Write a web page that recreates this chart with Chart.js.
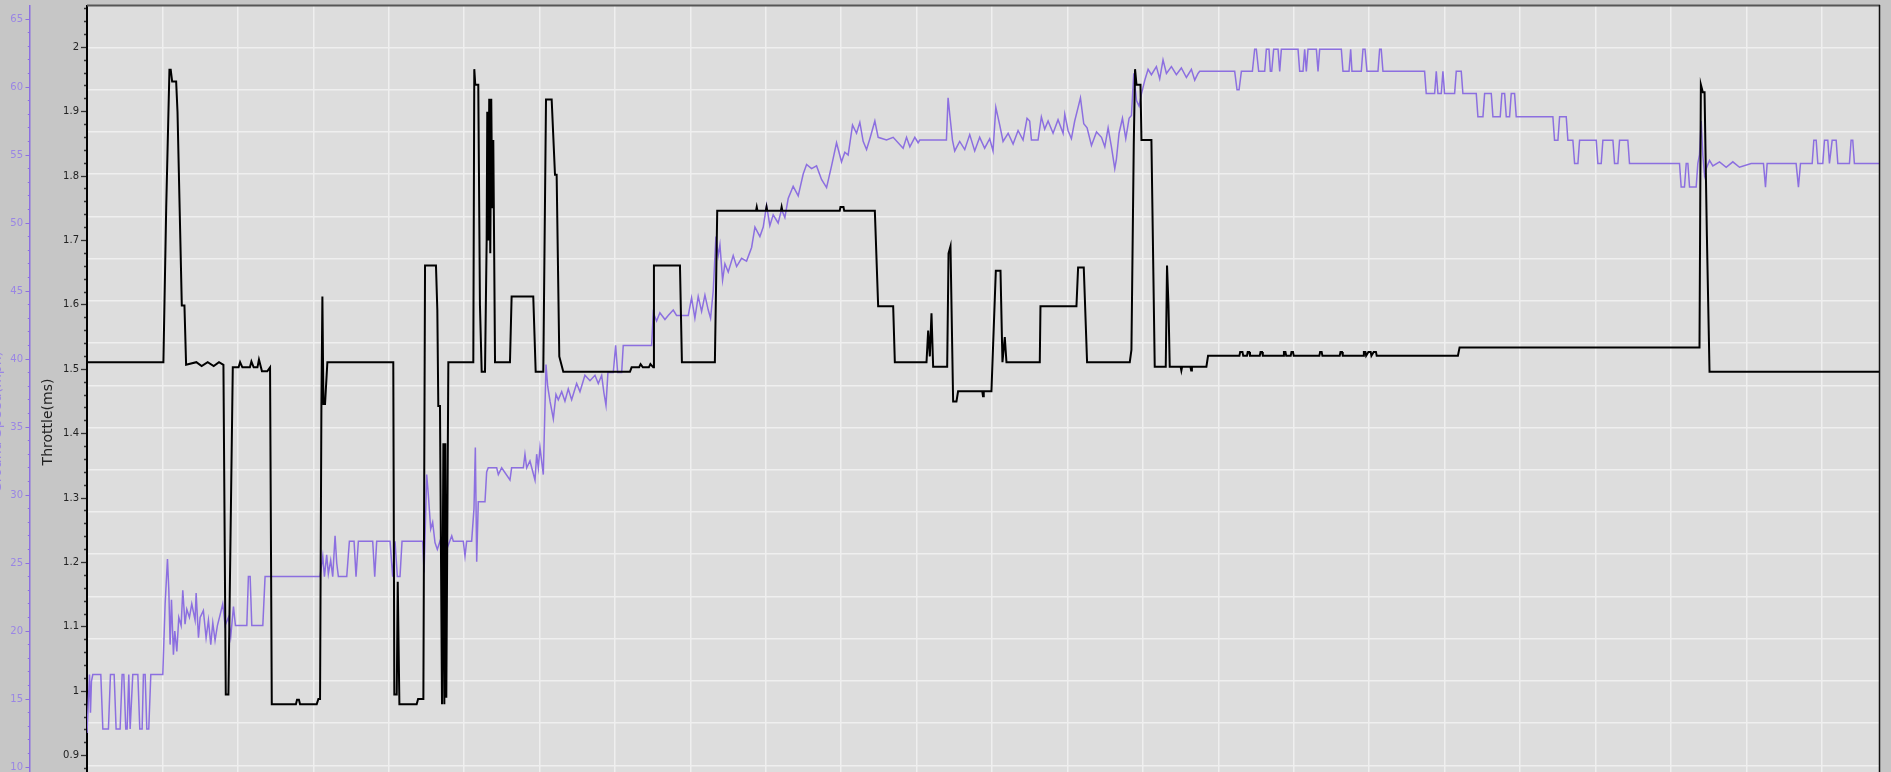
<!DOCTYPE html>
<html>
<head>
<meta charset="utf-8">
<script src="https://cdn.jsdelivr.net/npm/chart.js@4/dist/chart.umd.min.js"></script>
<style>
html,body{margin:0;padding:0;width:1891px;height:772px;overflow:hidden;background:#c6c6c6;}
#wrap{width:1891px;height:772px;overflow:hidden;position:relative;}
canvas{display:block;}
</style>
</head>
<body>
<div id="wrap"><canvas id="c" width="1891" height="840" style="width:1891px;height:840px"></canvas></div>
<script>
// time axis (arbitrary units, grid every 10)
const timeRange = [0, 237.6];

// Throttle (ms) – black series
const throttleT = [0,10.13,10.5,10.93,11.1,11.29,11.82,12.0,12.57,12.92,13.14,14.5,15.2,16.0,16.8,17.5,18.09,18.4,18.75,19.33,20.1,20.3,20.6,21.6,21.8,22.1,22.6,22.8,23.2,23.9,24.27,24.5,27.7,27.85,28.1,28.25,30.46,30.68,30.9,31.08,31.21,31.35,31.56,31.87,40.61,40.75,41.07,41.2,41.42,43.71,43.9,44.6,44.82,46.27,46.45,46.58,46.8,47.07,47.25,47.38,47.51,47.64,47.91,51.22,51.35,51.48,51.88,52.1,52.33,52.77,52.99,53.07,53.2,53.33,53.47,53.6,53.73,53.87,53.96,54.1,56.08,56.3,59.17,59.49,60.5,60.86,61.61,62.05,62.27,62.62,63.15,71.99,72.21,73.2,73.4,73.7,74.5,74.7,75.08,75.17,78.62,78.88,83.25,83.56,88.7,88.8,88.9,90.0,90.1,90.2,92.0,92.1,92.2,99.8,99.9,100.3,100.4,104.46,104.9,106.89,107.11,111.31,111.53,111.75,111.97,112.19,114.05,114.23,114.49,114.84,115.28,115.5,118.7,118.8,118.9,119.92,120.5,121.12,121.38,121.69,121.91,126.33,126.42,131.19,131.41,132.16,132.6,138.26,138.48,138.79,138.96,139.15,139.68,139.81,141.13,141.57,143.03,143.2,143.39,143.56,145.0,145.1,145.2,146.3,146.4,146.5,148.42,148.64,152.8,152.9,153.2,153.3,153.8,153.9,154.1,154.2,155.5,155.6,155.8,155.9,158.6,158.7,158.9,159.0,159.6,159.7,159.9,160.0,163.4,163.5,163.7,163.8,166.1,166.2,166.4,166.5,169.2,169.3,169.5,169.6,169.9,170.2,170.3,170.6,170.9,171.0,181.77,181.99,213.8,213.98,214.24,214.47,214.78,215.13,237.6];
const throttleV = [1.511,1.511,1.75,1.965,1.965,1.947,1.947,1.9,1.599,1.599,1.507,1.511,1.505,1.511,1.505,1.511,1.507,0.995,0.995,1.503,1.503,1.511,1.503,1.503,1.512,1.503,1.503,1.515,1.497,1.497,1.503,0.98,0.98,0.987,0.987,0.98,0.98,0.988,0.988,1.446,1.613,1.446,1.446,1.511,1.511,0.995,0.995,1.17,0.98,0.98,0.988,0.988,1.661,1.661,1.592,1.443,1.443,0.98,1.385,0.98,1.385,0.99,1.511,1.511,1.966,1.942,1.942,1.6,1.496,1.496,1.7,1.9,1.7,1.92,1.68,1.92,1.75,1.856,1.856,1.511,1.511,1.613,1.613,1.496,1.496,1.919,1.919,1.802,1.802,1.52,1.496,1.496,1.503,1.503,1.508,1.503,1.503,1.508,1.503,1.661,1.661,1.511,1.511,1.746,1.746,1.752,1.746,1.746,1.752,1.746,1.746,1.752,1.746,1.746,1.752,1.752,1.746,1.746,1.598,1.598,1.511,1.511,1.56,1.52,1.587,1.504,1.504,1.68,1.691,1.45,1.45,1.466,1.466,1.458,1.466,1.466,1.653,1.653,1.511,1.55,1.511,1.511,1.598,1.598,1.658,1.658,1.511,1.511,1.53,1.85,1.966,1.942,1.942,1.856,1.856,1.504,1.504,1.661,1.6,1.504,1.504,1.498,1.504,1.504,1.498,1.504,1.504,1.521,1.521,1.527,1.527,1.521,1.521,1.527,1.527,1.521,1.521,1.527,1.527,1.521,1.521,1.527,1.527,1.521,1.521,1.527,1.527,1.521,1.521,1.527,1.527,1.521,1.521,1.527,1.527,1.521,1.521,1.527,1.527,1.521,1.527,1.527,1.521,1.527,1.527,1.521,1.521,1.534,1.534,1.942,1.93,1.93,1.707,1.496,1.496];

// Speed – purple series
const speedT = [0,0.33,0.46,0.59,0.77,1.83,2.1,2.84,3.11,3.6,3.86,4.39,4.66,4.88,5.14,5.32,5.54,5.72,6.07,6.74,7.0,7.31,7.48,7.71,7.93,8.19,8.46,10.05,10.36,10.67,10.85,11.02,11.2,11.46,11.64,11.91,12.17,12.48,12.7,13.0,13.23,13.58,13.89,14.33,14.47,14.78,15.0,15.43,15.79,16.1,16.41,16.68,16.98,17.29,17.74,18.0,18.31,18.75,19.06,19.42,19.68,21.19,21.4,21.63,21.85,23.31,23.61,30.9,31.26,31.48,31.78,32.0,32.31,32.58,32.89,33.11,33.33,34.44,34.79,35.41,35.67,35.98,37.88,38.15,38.41,40.18,40.53,40.84,41.15,41.5,41.77,44.51,44.69,45.04,45.26,45.57,45.83,46.14,46.45,46.8,47.25,47.47,47.69,48.36,48.57,49.89,50.12,50.34,51.0,51.31,51.49,51.67,51.88,52.77,52.99,53.2,54.32,54.54,54.98,56.08,56.3,57.85,58.07,58.3,58.73,59.4,59.62,59.84,60.06,60.5,60.86,61.08,61.39,61.83,62.18,62.49,62.94,63.37,63.81,64.26,64.92,65.36,66.02,66.69,67.35,67.79,68.24,68.54,68.81,69.07,69.78,70.09,70.36,70.89,71.1,74.86,75.08,75.52,75.96,76.63,77.06,77.73,78.17,79.72,80.16,80.6,81.04,81.49,81.93,82.37,82.68,83.03,83.39,83.69,83.92,84.27,84.58,85.02,85.68,86.13,86.79,87.45,88.12,88.56,89.22,89.66,90.1,90.54,90.98,91.64,92.09,92.53,92.97,93.63,94.3,94.96,95.41,96.07,96.73,97.39,98.06,98.72,99.38,100.04,100.48,100.92,101.5,102.03,102.47,102.91,103.36,103.8,104.46,104.9,106.01,106.89,108.21,108.66,109.1,109.76,110.2,110.42,113.95,114.17,114.39,114.75,115.05,115.71,116.38,117.04,117.7,118.36,119.02,119.69,120.13,120.5,121.02,121.46,122.13,122.79,123.45,124.11,124.64,124.99,125.22,126.1,126.54,126.98,127.43,128.09,128.75,129.42,129.64,130.08,130.52,130.96,131.41,131.72,132.16,132.6,133.18,133.85,134.51,134.95,135.39,135.83,136.27,136.49,136.84,137.29,137.73,138.17,138.48,138.79,139.15,139.49,139.81,140.25,140.69,141.13,141.79,142.23,142.67,143.12,143.78,144.44,145.1,145.77,146.43,146.87,147.31,147.53,152.17,152.48,152.75,153.06,154.52,154.82,155.04,155.35,156.15,156.37,156.72,156.9,157.08,157.34,157.92,158.14,158.36,160.57,160.79,161.23,161.45,161.67,161.89,163.0,163.22,163.44,166.31,166.53,167.33,167.55,167.72,168.96,169.18,169.45,169.71,171.17,171.39,171.6,171.83,177.35,177.57,178.68,178.9,179.12,179.56,179.78,180.0,181.33,181.55,182.21,182.43,184.2,184.42,185.09,185.31,186.19,186.41,187.38,187.6,187.96,188.18,188.62,188.84,189.28,189.5,194.36,194.58,195.03,195.25,196.13,196.35,197.01,197.24,197.68,197.9,200.11,200.33,200.77,200.99,202.32,202.54,202.98,203.2,204.3,204.52,211.15,211.37,211.81,212.04,212.26,212.48,213.36,213.58,213.8,214.02,214.24,214.47,214.69,215.13,215.57,216.45,217.34,218.22,219.1,220.65,222.28,222.55,222.77,226.61,226.92,227.19,228.74,228.96,229.27,229.49,230.15,230.37,230.81,231.03,231.39,231.92,232.14,233.68,233.9,234.12,234.34,237.6];
const speedV = [12.5,16.8,14.0,16.3,16.8,16.8,12.8,12.8,16.8,16.8,12.8,12.8,16.8,16.8,12.8,12.8,16.8,12.8,16.8,16.8,12.8,12.8,16.8,16.8,12.8,12.8,16.8,16.8,22.0,25.3,23.0,19.0,22.3,18.25,20.0,18.5,21.0,20.4,23.0,20.5,21.6,21.0,22.0,20.8,22.8,19.5,21.0,21.5,19.5,20.8,19.0,20.6,19.3,20.4,21.4,22.0,20.4,21.0,19.6,21.8,20.4,20.4,24.0,24.0,20.4,20.4,24.0,24.0,25.5,24.0,25.6,24.2,25.2,24.0,27.0,25.0,24.0,24.0,26.6,26.6,24.0,26.6,26.6,24.0,26.6,26.6,24.0,26.6,24.0,24.0,26.6,26.6,24.3,31.5,30.0,27.5,28.0,26.5,26.0,26.6,26.0,27.2,26.0,27.0,26.6,26.6,25.5,26.6,26.6,29.0,33.5,25.1,29.5,29.5,31.7,32.0,32.0,31.5,32.0,31.1,32.0,32.0,33.0,32.0,32.5,31.1,33.0,32.0,33.5,31.5,39.6,38.0,36.9,35.6,37.4,37.0,37.6,36.9,37.8,37.0,38.2,37.6,38.8,38.4,38.8,38.2,38.8,37.5,36.6,39.0,39.0,41.0,39.0,39.0,41.0,41.0,43.4,42.8,43.4,42.9,43.2,43.6,43.2,43.2,44.5,43.0,44.6,43.5,44.7,43.6,43.0,45.0,49.0,47.6,48.4,45.8,47.0,46.4,47.6,46.8,47.4,47.2,48.2,49.7,49.0,49.7,51.3,49.8,50.6,50.0,51.0,50.4,51.8,52.7,52.0,53.6,54.3,54.0,54.2,53.2,52.6,54.2,55.9,54.5,55.2,55.0,57.2,56.6,57.4,56.0,55.4,56.2,57.5,56.3,56.1,56.3,55.5,56.3,55.6,56.3,55.9,56.1,56.1,59.2,58.0,56.1,55.3,56.0,55.4,56.5,55.3,56.3,55.5,56.2,55.3,58.5,57.2,56.0,56.6,55.8,56.8,56.1,57.7,57.5,56.1,56.1,57.8,56.9,57.5,56.6,57.6,56.6,58.0,56.8,56.2,57.5,58.5,59.2,57.3,57.0,55.7,56.7,56.3,55.6,57.0,55.6,54.0,54.7,56.6,57.7,56.2,57.7,57.9,61.0,59.0,58.6,59.5,60.5,61.3,60.9,61.5,60.6,62.0,61.0,61.5,60.9,61.4,60.7,61.3,60.5,61.0,61.15,61.15,59.8,59.8,61.15,61.15,62.78,62.78,61.15,61.15,62.78,62.78,61.15,61.15,62.78,62.78,61.15,62.78,62.78,61.15,61.15,62.78,61.15,62.78,62.78,61.15,62.78,62.78,61.15,61.15,62.78,61.15,61.15,62.78,62.78,61.15,61.15,62.78,62.78,61.15,61.15,59.52,59.52,61.15,59.52,59.52,61.15,59.52,59.52,61.15,61.15,59.52,59.52,57.82,57.82,59.52,59.52,57.82,57.82,59.52,59.52,57.82,57.82,59.52,59.52,57.82,57.82,56.08,56.08,57.82,57.82,56.08,56.08,54.38,54.38,56.08,56.08,54.38,54.38,56.08,56.08,54.38,54.38,56.08,56.08,54.38,54.38,52.64,52.64,54.38,54.38,52.64,52.64,54.38,55.0,57.5,55.0,53.5,54.0,54.6,54.2,54.5,54.1,54.5,54.1,54.38,54.38,52.64,54.38,54.38,52.64,54.38,54.38,56.08,56.08,54.38,54.38,56.08,56.08,54.38,56.08,56.08,54.38,54.38,56.08,56.08,54.38,54.38];

// axis ranges & ticks
const throttleRange = [0.7722, 2.0641];
const throttleMinorStep = 0.02;
const speedRange = [4.78, 65.956];
const speedMinorStep = 1;
const gridStep = 0.0656;
const throttleTitle = 'Throttle(ms)';
const speedTitle = 'Ground Speed(mph)';

const purple = '#8c6fe0';
const purpleText = '#9a86e4';

function isMajorThrottle(v){ return Math.abs(v*10 - Math.round(v*10)) < 1e-6; }
function isMajorSpeed(v){ return Math.round(v) % 5 === 0; }

const framePlugin = {
  id: 'frame',
  beforeDraw(chart){
    const {ctx, chartArea:a} = chart;
    ctx.save();
    ctx.fillStyle = '#dddddd';
    ctx.fillRect(a.left, a.top, a.right - a.left, a.bottom - a.top);
    ctx.restore();
  },
  afterDraw(chart){
    const {ctx, chartArea:a} = chart;
    ctx.save();
    ctx.strokeStyle = '#565656';
    ctx.lineWidth = 2;
    ctx.beginPath(); ctx.moveTo(a.left, a.top - 0.5); ctx.lineTo(a.right + 1, a.top - 0.5); ctx.stroke();
    ctx.strokeStyle = '#111';
    ctx.lineWidth = 1.5;
    ctx.beginPath(); ctx.moveTo(a.right + 0.5, a.top - 1); ctx.lineTo(a.right + 0.5, a.bottom); ctx.stroke();
    ctx.restore();
  }
};

new Chart(document.getElementById('c'), {
  type: 'line',
  data: {
    datasets: [
      {
        label: throttleTitle,
        data: throttleT.map((t, i) => ({x: t, y: throttleV[i]})),
        yAxisID: 'yT', borderColor: '#000', borderWidth: 2,
        pointRadius: 0, tension: 0, fill: false, order: 0
      },
      {
        label: speedTitle,
        data: speedT.map((t, i) => ({x: t, y: speedV[i]})),
        yAxisID: 'yS', borderColor: purple, borderWidth: 1.5,
        pointRadius: 0, tension: 0, fill: false, order: 1
      }
    ]
  },
  options: {
    responsive: false,
    animation: false,
    events: [],
    layout: {padding: {top: 6, right: 12, bottom: 2, left: 0}},
    plugins: {legend: {display: false}, tooltip: {enabled: false}},
    scales: {
      x: {
        type: 'linear', position: 'bottom', min: timeRange[0], max: timeRange[1],
        ticks: {display: false, stepSize: 10, includeBounds: false},
        grid: {color: '#efefef', lineWidth: 1.5, drawTicks: false},
        border: {display: false},
        afterFit(s){ s.height = 0; s.paddingLeft = 0; s.paddingRight = 0; }
      },
      yT: {
        type: 'linear', position: 'left', weight: 0,
        min: throttleRange[0], max: throttleRange[1],
        afterBuildTicks(s){
          const t = [];
          for (let v = 0.78; v <= throttleRange[1] + 1e-9; v += throttleMinorStep) t.push({value: Math.round(v*100)/100});
          s.ticks = t;
        },
        ticks: {
          autoSkip: false, padding: 2, color: '#222',
          font: {family: 'DejaVu Sans', size: 10},
          callback(v){ if (!isMajorThrottle(v)) return ''; const r = Math.round(v*10)/10; return Number.isInteger(r) ? String(r) : r.toFixed(1); }
        },
        grid: {
          drawOnChartArea: false, tickLength: 6, tickColor: '#333', tickWidth: 1.3,
          tickBorderDash: (ctx) => (ctx.tick && isMajorThrottle(ctx.tick.value)) ? [] : [0, 3, 6, 0]
        },
        border: {display: true, color: '#000', width: 2},
        title: {display: true, text: throttleTitle, color: '#222', font: {family: 'DejaVu Sans', size: 14}, padding: {top: 9.6, bottom: 0}},
        afterFit(s){ s.width = 57; s.paddingTop = 0; s.paddingBottom = 0; }
      },
      yS: {
        type: 'linear', position: 'left', weight: 1,
        min: speedRange[0], max: speedRange[1],
        afterBuildTicks(s){
          const t = [];
          for (let v = 5; v <= speedRange[1]; v += speedMinorStep) t.push({value: v});
          s.ticks = t;
        },
        ticks: {
          autoSkip: false, padding: 2.5, color: purpleText,
          font: {family: 'DejaVu Sans', size: 10},
          callback(v){ return isMajorSpeed(v) ? String(v) : ''; }
        },
        grid: {
          drawOnChartArea: false, tickLength: 4.5, tickColor: purple, tickWidth: 1,
          tickBorderDash: (ctx) => (ctx.tick && isMajorSpeed(ctx.tick.value)) ? [] : [0, 2.3, 6, 0]
        },
        border: {display: true, color: purple, width: 1.5},
        title: {display: true, text: speedTitle, color: purpleText, font: {family: 'DejaVu Sans', size: 14}, padding: {top: -11.5, bottom: 0}},
        afterFit(s){ s.width = 30; s.paddingTop = 0; s.paddingBottom = 0; }
      },
      yG: {
        type: 'linear', position: 'right', weight: 0,
        min: throttleRange[0], max: throttleRange[1],
        afterBuildTicks(s){
          const t = [];
          for (let k = 0; 2 - k*gridStep > throttleRange[0]; k++) t.push({value: 2 - k*gridStep});
          s.ticks = t;
        },
        ticks: {display: false},
        grid: {color: '#efefef', lineWidth: 1.5, drawTicks: false},
        border: {display: false},
        afterFit(s){ s.width = 0; s.paddingTop = 0; s.paddingBottom = 0; }
      }
    }
  },
  plugins: [framePlugin]
});
</script>
</body>
</html>
